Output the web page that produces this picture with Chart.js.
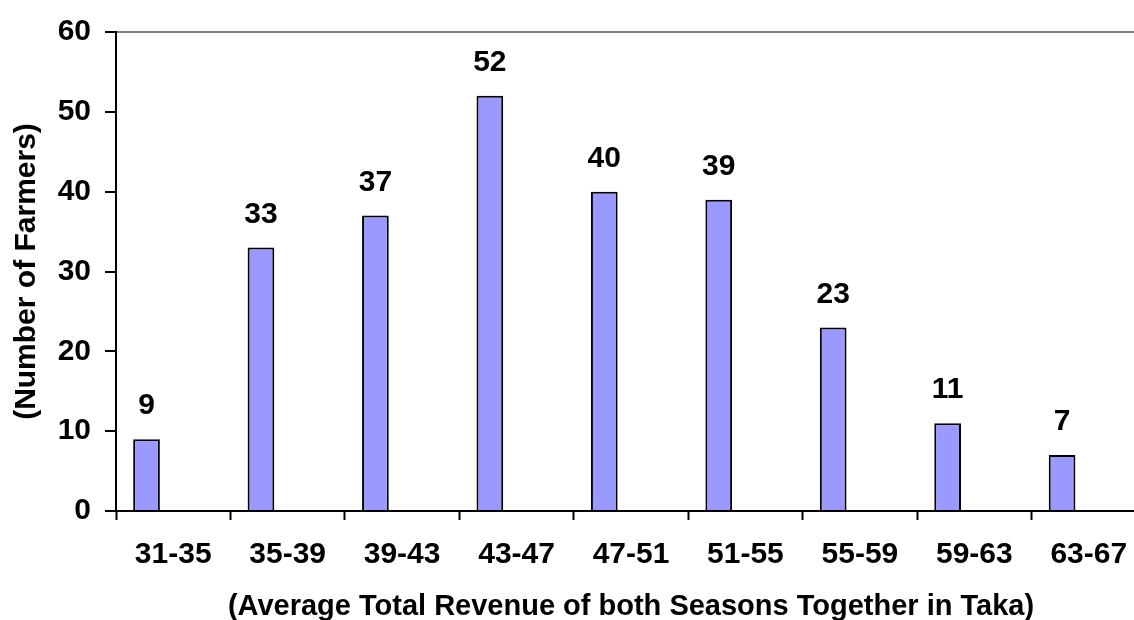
<!DOCTYPE html>
<html>
<head>
<meta charset="utf-8">
<script src="https://cdn.jsdelivr.net/npm/chart.js@4.4.1/dist/chart.umd.min.js"></script>
<style>
  html, body { margin: 0; padding: 0; background: #fff; overflow: hidden; }
  #wrap { width: 1146px; height: 624px; }
</style>
</head>
<body>
<div id="wrap"><canvas id="myChart" width="1146" height="624"></canvas></div>
<script>
// revenue classes (taka) and number of farmers in each
const categories = ['31-35', '35-39', '39-43', '43-47', '47-51', '51-55', '55-59', '59-63', '63-67'];
const farmers = [9, 33, 37, 52, 40, 39, 23, 11, 7];
// empty series so the bar sits in the left slot of each class, like the original
const spacerA = [null, null, null, null, null, null, null, null, null];
const spacerB = [null, null, null, null, null, null, null, null, null];
const yTicks = [0, 10, 20, 30, 40, 50, 60];
const xTitle = '(Average Total Revenue of both Seasons Together in Taka)';
const yTitle = '(Number of Farmers)';

const FONT = '"Liberation Sans", Arial, sans-serif';

// value labels above each bar
const barValues = {
    id: 'barValues',
    afterDatasetsDraw(chart) {
        const ctx = chart.ctx;
        const meta = chart.getDatasetMeta(0);
        ctx.save();
        ctx.font = 'bold 30px ' + FONT;
        ctx.fillStyle = '#000';
        ctx.textAlign = 'center';
        ctx.textBaseline = 'middle';
        meta.data.forEach((bar, i) => {
            ctx.fillText(String(farmers[i]), bar.x, bar.y - 33);
        });
        ctx.restore();
    }
};

new Chart(document.getElementById('myChart'), {
    type: 'bar',
    data: {
        labels: categories,
        datasets: [
            { label: 'farmers', data: farmers, backgroundColor: '#9999FF', borderColor: '#000', borderWidth: 2 },
            { label: 'a', data: spacerA },
            { label: 'b', data: spacerB }
        ]
    },
    options: {
        responsive: false,
        animation: false,
        categoryPercentage: 0.70,
        barPercentage: 1.0,
        layout: { padding: { top: 31, right: 0, left: 0, bottom: 0 } },
        plugins: {
            legend: { display: false },
            tooltip: { enabled: false }
        },
        scales: {
            x: {
                offset: true,
                afterFit: s => { s.height = 113; },
                grid: { offset: true, color: 'rgba(0,0,0,0)', tickColor: '#000', tickLength: 9, tickWidth: 2 },
                border: { color: '#000', width: 2 },
                ticks: { color: '#000', padding: 17, maxRotation: 0, font: { family: FONT, size: 30, weight: 'bold' } },
                title: { display: true, text: xTitle, color: '#000', padding: { top: 0, bottom: 0 }, font: { family: FONT, size: 29, weight: 'bold' } }
            },
            y: {
                min: 0,
                max: 60,
                afterFit: s => { s.width = 116; },
                afterBuildTicks: s => { s.ticks = yTicks.map(v => ({ value: v })); },
                grid: {
                    color: c => (c.tick && c.tick.value === 60 ? '#808080' : 'rgba(0,0,0,0)'),
                    lineWidth: 2,
                    tickColor: '#000',
                    tickLength: 11,
                    tickWidth: 2
                },
                border: { color: '#000', width: 2 },
                ticks: { color: '#000', padding: 14, font: { family: FONT, size: 30, weight: 'bold' } },
                title: { display: true, text: yTitle, color: '#000', padding: { top: 9, bottom: 0 }, font: { family: FONT, size: 30, weight: 'bold' } }
            }
        }
    },
    plugins: [barValues]
});
</script>
</body>
</html>
